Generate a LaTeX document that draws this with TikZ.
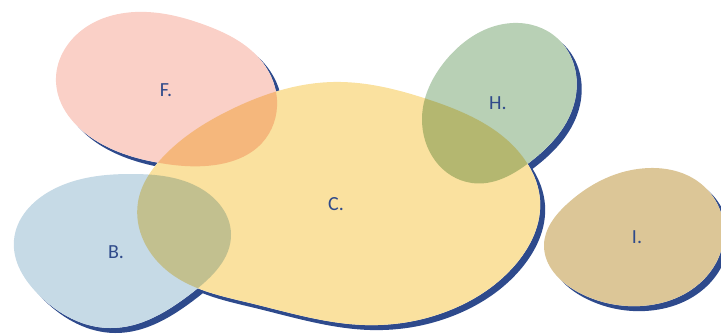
\documentclass[tikz,border=0pt]{standalone}
\usepackage{fontspec}
\setmainfont{Carlito}
\usetikzlibrary{hobby}
\definecolor{shadowblue}{HTML}{2E4A8C}
\definecolor{labelblue}{HTML}{2F4A8A}
\definecolor{fcol}{HTML}{FAD0C7}
\definecolor{ccol}{HTML}{FAE19F}
\definecolor{hcol}{HTML}{B8D0B5}
\definecolor{bcol}{HTML}{C6DAE6}
\definecolor{icol}{HTML}{DCC697}
\begin{document}
\begin{tikzpicture}[x=1pt,y=-1pt,
  lbl/.style={text=labelblue,font=\fontsize{20}{24}\selectfont,inner sep=0pt}]
\useasboundingbox (0,0) rectangle (721,333);
\clip (0,0) rectangle (721,333);
\def\shapeF{plot[closed hobby] coordinates {(56,82) (82,30) (135,12) (205,25) (258,57) (277,100) (262,143) (215,165) (160,163) (95,140)}}
\def\shapeC{plot[closed hobby] coordinates {(138,202) (162,158) (230,110) (333,82) (430,100) (527,163) (540,200) (515,265) (455,308) (365,325) (250,303) (170,273)}}
\def\shapeB{plot[closed hobby] coordinates {(133,174) (52,190) (14,240) (40,296) (110,328) (193,292) (231,234) (200,188)}}
\def\shapeH{plot[closed hobby] coordinates {(513,23) (446,60) (422,118) (472,183) (530,162) (575,100) (557,38)}}
\def\shapeI{plot[closed hobby] coordinates {(650,168) (566,205) (544,245) (578,292) (640,306) (705,278) (724,232) (700,183)}}
% shadows
\begin{scope}[shift={(5,5)}]
  \fill[shadowblue] \shapeF;
  \fill[shadowblue] \shapeC;
  \fill[shadowblue] \shapeB;
  \fill[shadowblue] \shapeH;
  \fill[shadowblue] \shapeI;
\end{scope}
% knock-out
\fill[white] \shapeF;
\fill[white] \shapeC;
\fill[white] \shapeB;
\fill[white] \shapeH;
\fill[white] \shapeI;
% coloured shapes
\begin{scope}[blend group=multiply]
  \fill[fcol] \shapeF;
  \fill[ccol] \shapeC;
  \fill[bcol] \shapeB;
  \fill[hcol] \shapeH;
  \fill[icol] \shapeI;
\end{scope}
\node[lbl] (F) at (166,90) {F.};
\node[lbl] (C) at (336,204) {C.};
\node[lbl] (B) at (116,252) {B.};
\node[lbl] (H) at (498,103) {H.};
\node[lbl] (I) at (637,237) {I.};
\end{tikzpicture}
\end{document}
